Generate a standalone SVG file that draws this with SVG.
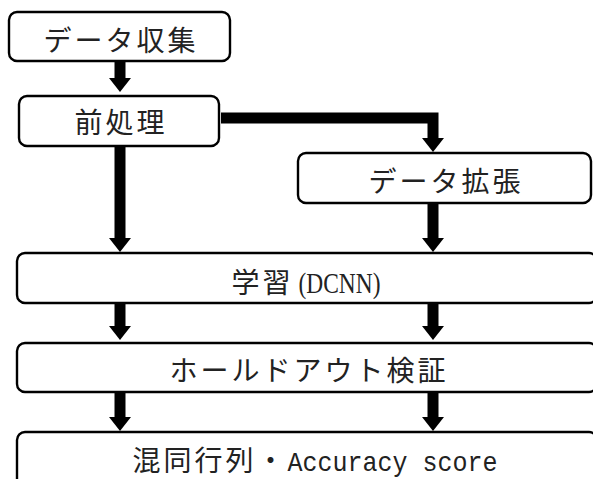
<svg xmlns="http://www.w3.org/2000/svg" width="593" height="479" viewBox="0 0 593 479">
<style>
.box{fill:#fff;stroke:#000;stroke-width:2.4}
.lbl{font-family:"Liberation Serif","Noto Sans CJK JP",serif;font-size:28px;letter-spacing:3px;fill:#222;text-anchor:middle}
.lat{font-family:"Liberation Serif","Noto Sans CJK JP",serif;font-size:29px;letter-spacing:0}
.mono{font-family:"Liberation Mono","Noto Sans CJK JP",monospace;font-size:28px;letter-spacing:0}
.conn{fill:none;stroke:#000;stroke-width:11;stroke-linejoin:miter}
</style>
<defs>
<marker id="ah" viewBox="-1 0 14 22" refX="0" refY="11" markerWidth="14" markerHeight="22" markerUnits="userSpaceOnUse" orient="auto">
<path d="M-1,0 L13,11 L-1,22 Z" fill="#000"/>
</marker>
</defs>
<g id="connectors">
<path class="conn" d="M120,61 V79" marker-end="url(#ah)"/>
<path class="conn" d="M120,146 V239" marker-end="url(#ah)"/>
<path class="conn" d="M221,118 H433 V139" marker-end="url(#ah)"/>
<path class="conn" d="M433,203 V239" marker-end="url(#ah)"/>
<path class="conn" d="M120,303 V327" marker-end="url(#ah)"/>
<path class="conn" d="M433,303 V327" marker-end="url(#ah)"/>
<path class="conn" d="M120,392 V418" marker-end="url(#ah)"/>
<path class="conn" d="M433,392 V418" marker-end="url(#ah)"/>
</g>
<g id="n1">
<rect class="box" x="9" y="12" width="221" height="49" rx="8"/>
<text class="lbl" x="121" y="51">データ収集</text>
</g>
<g id="n2">
<rect class="box" x="19" y="96" width="200" height="50" rx="8"/>
<text class="lbl" x="121" y="133">前処理</text>
</g>
<g id="n3">
<rect class="box" x="298" y="153" width="293" height="50" rx="8"/>
<text class="lbl" x="446" y="192">データ拡張</text>
</g>
<g id="n4">
<rect class="box" x="17" y="253" width="580" height="50" rx="8"/>
<text class="lbl" x="306" y="293">学習<tspan class="lat" dx="5" textLength="82" lengthAdjust="spacingAndGlyphs">(DCNN)</tspan></text>
</g>
<g id="n5">
<rect class="box" x="17" y="343" width="580" height="49" rx="8"/>
<text class="lbl" x="309" y="381">ホールドアウト検証</text>
</g>
<g id="n6">
<rect class="box" x="17" y="432" width="580" height="60" rx="8"/>
<text class="lbl" x="315" y="471">混同行列・<tspan class="mono" textLength="210" lengthAdjust="spacingAndGlyphs">Accuracy score</tspan></text>
</g>
</svg>
